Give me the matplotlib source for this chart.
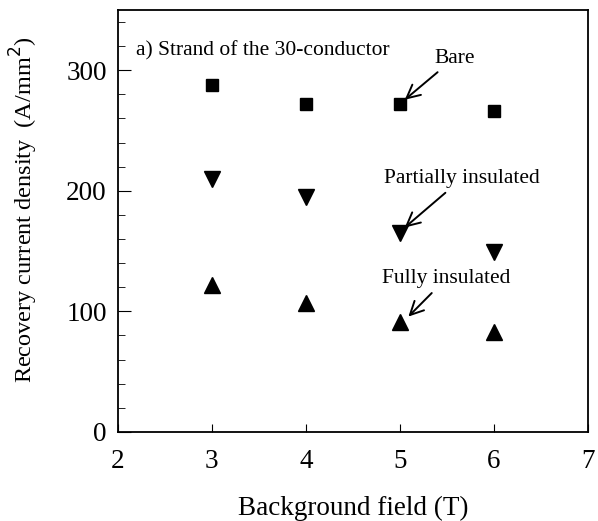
import matplotlib
matplotlib.use("Agg")
import matplotlib.pyplot as plt
from matplotlib.ticker import MultipleLocator

plt.rcParams['font.family'] = ['Liberation Serif', 'DejaVu Serif']

field = [3, 4, 5, 6]
bare = [288, 272, 272, 266]
partial = [210, 195, 165, 149]
fully = [122, 107, 91, 83]

xticks = [2, 3, 4, 5, 6, 7]
yticks = [0, 100, 200, 300]

fig = plt.figure(figsize=(5.98, 5.21), dpi=100)
ax = fig.add_axes([0.197, 0.171, 0.786, 0.810])

ax.plot(field, bare, linestyle='none', marker='s', ms=8.5, color='black')
ax.plot(field, partial, linestyle='none', marker='v', ms=11, color='black')
ax.plot(field, fully, linestyle='none', marker='^', ms=11, color='black')

ax.set_xlim(2, 7)
ax.set_ylim(0, 350)
ax.set_xticks(xticks)
ax.set_yticks(yticks)
ax.yaxis.set_minor_locator(MultipleLocator(20))
ax.tick_params(axis='both', which='both', direction='in', labelsize=19.5)
ax.tick_params(axis='y', which='major', length=9, pad=8)
ax.tick_params(axis='y', which='minor', length=5)
ax.tick_params(axis='x', which='major', length=6, pad=12)
for s in ax.spines.values():
    s.set_linewidth(1.3)

ax.set_xlabel('Background field (T)', fontsize=19.5, labelpad=16)
ax.set_ylabel('Recovery current density  (A/mm$^2$)', fontsize=17.5)
ax.yaxis.set_label_coords(-0.166, 0.526)

ax.text(2.19, 316, 'a) Strand of the 30-conductor', fontsize=15.5, va='center', ha='left')

arrow = dict(arrowstyle='->', lw=1.4, color='black', mutation_scale=24)
ax.annotate('Bare', xy=(5.03, 274), xytext=(5.58, 310),
            fontsize=15.5, ha='center', va='center', arrowprops=arrow)
ax.annotate('Partially insulated', xy=(5.03, 168), xytext=(5.66, 210),
            fontsize=15.5, ha='center', va='center', arrowprops=arrow)
ax.annotate('Fully insulated', xy=(5.07, 94), xytext=(5.49, 127),
            fontsize=15.5, ha='center', va='center', arrowprops=arrow)

fig.savefig('out.png', dpi=100)
